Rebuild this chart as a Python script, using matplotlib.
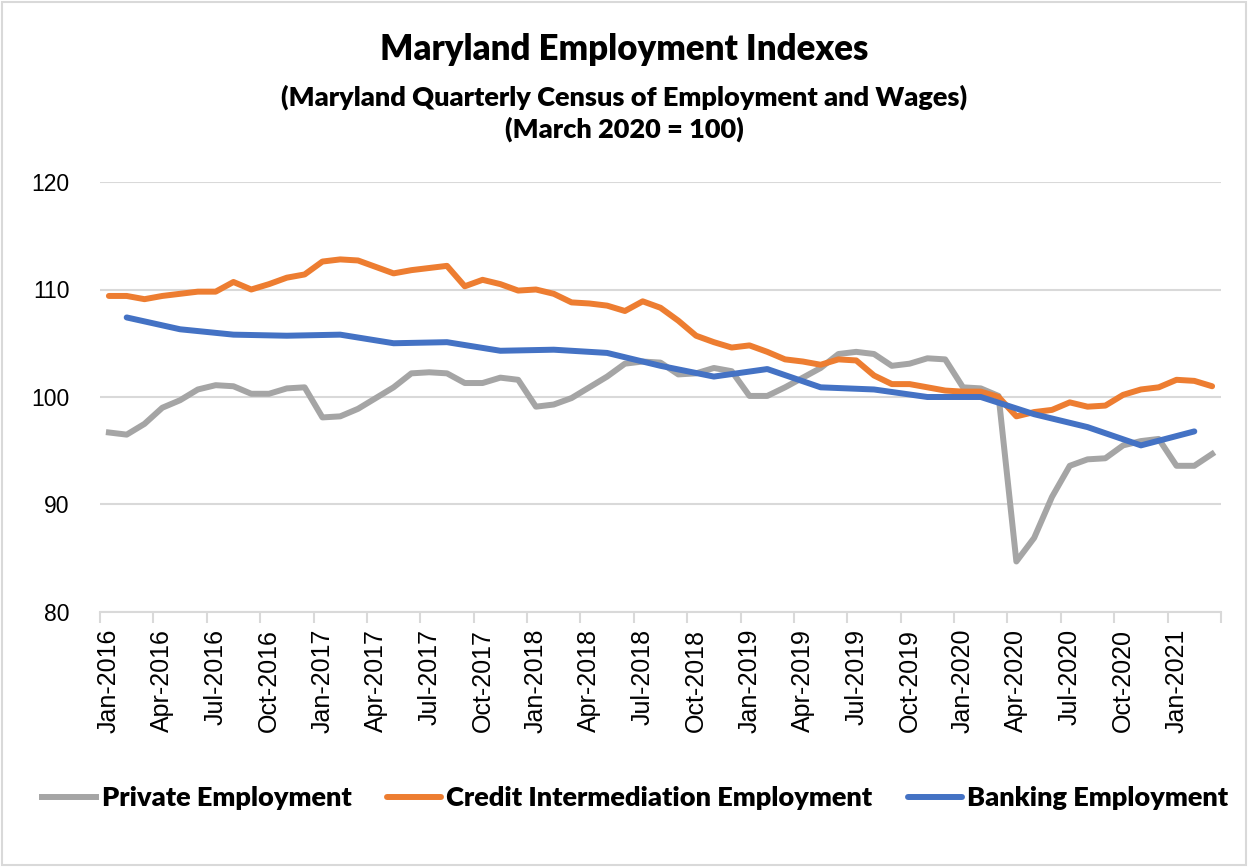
import numpy as np
import matplotlib.pyplot as plt
from matplotlib.patches import Rectangle

# monthly categories Jan-2016 .. Mar-2021
months = ["Jan", "Feb", "Mar", "Apr", "May", "Jun",
          "Jul", "Aug", "Sep", "Oct", "Nov", "Dec"]
categories = [f"{m}-{y}" for y in range(2016, 2022) for m in months][:63]

private = [96.7, 96.5, 97.5, 99.0, 99.7, 100.7, 101.1, 101.0, 100.3, 100.3, 100.8, 100.9,
           98.1, 98.2, 98.9, 99.9, 100.9, 102.2, 102.3, 102.2, 101.3, 101.3, 101.8, 101.6,
           99.1, 99.3, 99.9, 100.9, 101.9, 103.1, 103.3, 103.2, 102.1, 102.2, 102.7, 102.4,
           100.1, 100.1, 100.9, 101.8, 102.7, 104.0, 104.2, 104.0, 102.9, 103.1, 103.6, 103.5,
           100.9, 100.8, 100.1, 84.7, 86.9, 90.7, 93.6, 94.2, 94.3, 95.5, 95.9, 96.1,
           93.6, 93.6, 94.7]

credit = [109.4, 109.4, 109.1, 109.4, 109.6, 109.8, 109.8, 110.7, 110.0, 110.5, 111.1, 111.4,
          112.6, 112.8, 112.7, 112.1, 111.5, 111.8, 112.0, 112.2, 110.3, 110.9, 110.5, 109.9,
          110.0, 109.6, 108.8, 108.7, 108.5, 108.0, 108.9, 108.3, 107.1, 105.7, 105.1, 104.6,
          104.8, 104.2, 103.5, 103.3, 103.0, 103.5, 103.4, 102.0, 101.2, 101.2, 100.9, 100.6,
          100.5, 100.5, 100.0, 98.2, 98.6, 98.8, 99.5, 99.1, 99.2, 100.2, 100.7, 100.9,
          101.6, 101.5, 101.0]

# banking is quarterly: Feb, May, Aug, Nov
bank_cats = categories[1::3]
banking = [107.4, 106.3, 105.8, 105.7, 105.8, 105.0, 105.1, 104.3, 104.4, 104.1,
           102.9, 101.9, 102.6, 100.9, 100.7, 100.0, 100.0, 98.4, 97.2, 95.5, 96.8]

GRAY = "#A5A5A5"
ORANGE = "#ED7D31"
BLUE = "#4472C4"
GRID = "#D9D9D9"

fig = plt.figure(figsize=(12.48, 8.67), dpi=100)
ax = fig.add_axes([100 / 1248, 1 - 612 / 867, 1121 / 1248, 430 / 867])

x = np.arange(len(categories))
bx = [categories.index(c) for c in bank_cats]
lw = 4.3
ax.plot(x, private, color=GRAY, lw=lw, label="Private Employment", solid_joinstyle="round")
ax.plot(x, credit, color=ORANGE, lw=lw, label="Credit Intermediation Employment",
        solid_capstyle="round", solid_joinstyle="round")
ax.plot(bx, banking, color=BLUE, lw=lw, label="Banking Employment",
        solid_capstyle="round", solid_joinstyle="round")

ax.set_xlim(-0.5, len(categories) - 0.5)
ax.set_ylim(80, 120)
ax.set_yticks([80, 90, 100, 110, 120])
ax.grid(axis="y", color=GRID, lw=1.5)
ax.set_axisbelow(True)
for s in ["top", "right", "left"]:
    ax.spines[s].set_visible(False)
ax.spines["bottom"].set_color(GRID)
ax.spines["bottom"].set_linewidth(1.5)

ax.set_xticks(x[::3])
ax.set_xticklabels(categories[::3], rotation=90, fontsize=18,
                   family="Liberation Sans")
ax.tick_params(axis="x", which="major", length=0, pad=12)
ax.set_xticks(np.arange(-0.5, len(categories), 3), minor=True)
ax.tick_params(axis="x", which="minor", length=8, width=1.5, color=GRID)
ax.tick_params(axis="y", length=0, pad=22, labelsize=16.5)
for t in ax.get_yticklabels():
    t.set_family("Liberation Sans")

fig.text(0.5, 1 - 50 / 867, "Maryland Employment Indexes", ha="center", va="center",
         fontsize=25, fontweight="heavy", family="Lato")
fig.text(0.5, 1 - 97 / 867, "(Maryland Quarterly Census of Employment and Wages)",
         ha="center", va="center", fontsize=19.5, fontweight="heavy", family="Lato")
fig.text(0.5, 1 - 129 / 867, "(March 2020 = 100)", ha="center", va="center",
         fontsize=19.5, fontweight="heavy", family="Lato")

fig.legend(loc="center", bbox_to_anchor=(0.509, 1 - 798 / 867), ncol=3, frameon=False,
           prop={"family": "Lato", "weight": "heavy", "size": 19.5},
           handlelength=2.0, handletextpad=0.2, columnspacing=1.3)

fig.patches.append(Rectangle((0.002, 0.002), 0.996, 0.996, transform=fig.transFigure,
                             fill=False, edgecolor=GRID, lw=1.5))

fig.savefig("out.png", dpi=100)
